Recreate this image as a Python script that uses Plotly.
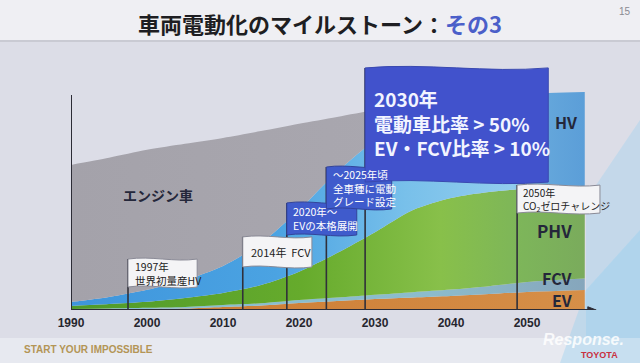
import plotly.graph_objects as go

# ---------------- data ----------------
years = [1990, 1995, 2000, 2005, 2010, 2015, 2020, 2025, 2030, 2035, 2040, 2045, 2050, 2057.6]
ev = [0, 0.2, 0.5, 0.7, 1.4, 2.1, 3.3, 4.2, 5.1, 5.8, 6.5, 7.4, 8.4, 9.3]
fcv = [0.5, 0.5, 0.5, 0.7, 0.9, 1.0, 1.3, 1.6, 2.0, 2.5, 3.0, 3.7, 4.6, 5.3]
phv = [1.4, 2.1, 2.8, 4.2, 5.6, 8.5, 13.2, 20.7, 29.1, 38.2, 42.6, 43.8, 43.4, 42.1]
hv = [1.9, 3.3, 5.6, 8.4, 12.6, 19.5, 28.8, 37.7, 42.8, 42.8, 43.3, 44.2, 44.2, 44.7]
engine = [63.7, 64.7, 65.1, 63.3, 59.5, 52.1, 40.0, 25.6, 14.0, 6.5, 2.8, 0.5, 0, 0]

tick_years = [1990, 2000, 2010, 2020, 2030, 2040, 2050]
tick_labels = ["1990", "2000", "2010", "2020", "2030", "2040", "2050"]

series_names = ["EV", "FCV", "PHV", "HV", "エンジン車"]

milestone_years = [1997.5, 2012.6, 2018.4, 2023.6, 2028.7, 2048.7]
milestone_texts = [
    "1997年<br>世界初量産HV",
    "2014年  FCV",
    "2020年～<br>EVの本格展開",
    "～2025年頃<br>全車種に電動<br>グレード設定",
    "2030年<br>電動車比率 > 50%<br>EV・FCV比率 > 10%",
    "2050年<br>CO<sub>2</sub>ゼロチャレンジ",
]

title_main = "車両電動化のマイルストーン："
title_sub = "その3"

# ---------------- layout helpers ----------------
W, H = 640, 363
ML, MR, MT, MB = 71, 0, 0, 53
PW, PH = W - ML - MR, H - MT - MB
PX_PER_YEAR = 7.6
PX_PER_UNIT = 2.15
X0 = 1990
XR = [X0, X0 + PW / PX_PER_YEAR]
YR = [0, PH / PX_PER_UNIT]


def px(xp):
    return (xp - ML) / PW


def py(yp):
    return (H - MB - yp) / PH


JP = "Noto Sans CJK JP"
DARK = "#24273a"

fig = go.Figure()

# stacked areas
fills = [
    dict(fillcolor="#d4853a", grad=[[0, "#c9772e"], [1, "#d68f48"]]),
    dict(fillcolor="#8fc3da", grad=[[0, "#86bfd2"], [0.7, "#8cbccc"], [1, "#86a6bc"]]),
    dict(fillcolor="#6cab34", grad=[[0, "#4f9a2a"], [0.45, "#66ab2c"], [0.72, "#88c04a"], [0.88, "#7db55a"], [1, "#7aab5c"]]),
    dict(fillcolor="#56a6e2", grad=[[0, "#3e95dc"], [0.4, "#4ba3e2"], [0.65, "#78c0ea"], [0.86, "#92cdee"], [0.91, "#66a8dc"], [1, "#5b9ed8"]]),
    dict(fillcolor="#a8a6ad", grad=[[0, "#a4a2aa"], [1, "#acaab2"]]),
]
for vals, name, f in zip([ev, fcv, phv, hv, engine], series_names, fills):
    fig.add_trace(go.Scatter(
        x=years, y=vals, name=name, mode="lines", stackgroup="one",
        line=dict(width=0, shape="spline", smoothing=0.8),
        fillcolor=f["fillcolor"],
        fillgradient=dict(type="horizontal", colorscale=f["grad"]),
        hoverinfo="skip", showlegend=False,
    ))

shapes = []
# background bands
shapes.append(dict(type="rect", xref="paper", yref="paper", x0=px(0), x1=px(W), y0=py(0), y1=py(40),
                   fillcolor="#efeff3", line=dict(width=0), layer="below"))
shapes.append(dict(type="rect", xref="paper", yref="paper", x0=px(0), x1=px(W), y0=py(40), y1=py(42),
                   fillcolor="#c9cad3", line=dict(width=0), layer="below"))
shapes.append(dict(type="rect", xref="paper", yref="paper", x0=px(0), x1=px(W), y0=py(338), y1=py(H),
                   fillcolor="#e7e9f0", line=dict(width=0), layer="below"))
# pale decorative tints at right
shapes.append(dict(type="path", xref="paper", yref="paper",
                   path=f"M{px(586)},{py(200)} L{px(640)},{py(120)} L{px(640)},{py(338)} L{px(586)},{py(338)} Z",
                   fillcolor="rgba(160,210,240,0.40)", line=dict(width=0), layer="below"))
shapes.append(dict(type="path", xref="paper", yref="paper",
                   path=f"M{px(586)},{py(290)} L{px(640)},{py(230)} L{px(640)},{py(363)} L{px(560)},{py(363)} Z",
                   fillcolor="rgba(140,205,240,0.35)", line=dict(width=0), layer="below"))

AX = "#2c2c36"
# axes lines
shapes.append(dict(type="line", x0=X0, x1=X0, y0=0, y1=100, line=dict(color=AX, width=2)))
shapes.append(dict(type="line", x0=X0, x1=2058.2, y0=0, y1=0, line=dict(color=AX, width=2)))
shapes.append(dict(type="path", path="M2058.0,1.5 L2059.1,0 L2058.0,-1.5 Z",
                   fillcolor=AX, line=dict(color=AX, width=1)))


def flag(x0, x1, top, bot, amp, fill, edge):
    a = (x1 - x0) / 3
    return dict(type="path",
                path=(f"M{x0},{top} C{x0 + a},{top + amp} {x0 + 2 * a},{top - amp} {x1},{top} "
                      f"L{x1},{bot} C{x0 + 2 * a},{bot - amp} {x0 + a},{bot + amp} {x0},{bot} Z"),
                fillcolor=fill, line=dict(color=edge, width=1))


BLUE = "#3f5bcc"
WHITE = "#f4f4f6"
geo = [  # (right year, top, bottom, amp, fill, edge)
    (2006.6, 23.7, 10.7, 1.6, WHITE, "#8a8a96"),
    (2021.7, 34.0, 20.0, 1.6, WHITE, "#8a8a96"),
    (2027.6, 49.8, 34.9, 1.6, BLUE, "#33449a"),
    (2032.2, 66.5, 47.0, 1.6, BLUE, "#33449a"),
    (2052.8, 112.6, 59.5, 2.5, "#4152cc", "#3a49b0"),
    (2059.6, 58.1, 45.1, 1.6, WHITE, "#8a8a96"),
]
for yr, g in zip(milestone_years, geo):
    shapes.append(dict(type="line", x0=yr, x1=yr, y0=0, y1=g[1],
                       line=dict(color="#30303a", width=1.6)))
for yr, g in zip(milestone_years, geo):
    shapes.append(flag(yr, g[0], g[1], g[2], g[3], g[4], g[5]))

annotations = []
# flag texts
flag_text_style = [
    dict(x=1998.1, y=17.2, size=10.5, color="#222"),
    dict(x=2013.4, y=27.0, size=11, color="#222"),
    dict(x=2019.0, y=42.4, size=10.5, color="white"),
    dict(x=2024.2, y=56.8, size=10.5, color="white"),
    dict(x=2029.6, y=87.0, size=19, color="#f2f4ff"),
    dict(x=2049.2, y=51.6, size=10, color="#222"),
]
for t, s in zip(milestone_texts, flag_text_style):
    txt = f"<b>{t}</b>" if s["size"] > 15 else t
    annotations.append(dict(x=s["x"], y=s["y"], text=txt, showarrow=False, xanchor="left", yanchor="middle",
                            align="left", font=dict(family=JP, size=s["size"], color=s["color"])))

# series labels
label_pos = [
    ("EV", 2056.2, 4.8, 16),
    ("FCV", 2056.2, 14.9, 16),
    ("PHV", 2056.2, 37.0, 17),
    ("HV", 2056.9, 87.5, 16),
    ("エンジン車", 2001.4, 53.5, 14),
]
for name, x, y, size in label_pos:
    annotations.append(dict(x=x, y=y, text=f"<b>{name}</b>", showarrow=False,
                            xanchor="right" if name != "エンジン車" else "center",
                            yanchor="middle", font=dict(family=JP, size=size, color=DARK)))

# title
annotations.append(dict(xref="paper", yref="paper", x=px(320), y=py(23),
                        text=f"<b>{title_main}<span style='color:#4b5fc9'>{title_sub}</span></b>",
                        showarrow=False, xanchor="center", yanchor="middle",
                        font=dict(family=JP, size=22, color="#1e1e22")))
annotations.append(dict(xref="paper", yref="paper", x=px(633), y=py(12), text="15", showarrow=False,
                        xanchor="right", yanchor="middle", font=dict(family="Liberation Sans", size=10, color="#8a8a92")))
annotations.append(dict(xref="paper", yref="paper", x=px(22), y=py(350), text="<b>START YOUR IMPOSSIBLE</b>",
                        showarrow=False, xanchor="left", yanchor="middle",
                        font=dict(family="Liberation Sans Narrow, Liberation Sans", size=10, color="#b39556")))
annotations.append(dict(xref="paper", yref="paper", x=px(626), y=py(339), text="<i><b>Response.</b></i>",
                        showarrow=False, xanchor="right", yanchor="middle",
                        font=dict(family="Liberation Sans", size=16, color="rgba(255,255,255,0.85)")))
annotations.append(dict(xref="paper", yref="paper", x=px(620), y=py(355), text="<b>TOYOTA</b>",
                        showarrow=False, xanchor="right", yanchor="middle",
                        font=dict(family="Liberation Sans", size=9, color="#c83040")))

fig.update_layout(
    width=W, height=H,
    margin=dict(l=ML, r=MR, t=MT, b=MB, pad=0),
    paper_bgcolor="#dcdde7", plot_bgcolor="rgba(0,0,0,0)",
    xaxis=dict(range=XR, tickvals=tick_years, ticktext=tick_labels, showgrid=False, zeroline=False,
               showline=False, ticks="", ticklabelstandoff=4, fixedrange=True,
               tickfont=dict(family="Liberation Sans", size=12, color="#26262e", weight="bold")),
    yaxis=dict(range=YR, visible=False, showgrid=False, zeroline=False, fixedrange=True),
    shapes=shapes, annotations=annotations, showlegend=False, hovermode=False,
)

fig.write_html("out.html", config={"displayModeBar": False, "staticPlot": True},
               post_script="document.body.style.margin='0px';")
